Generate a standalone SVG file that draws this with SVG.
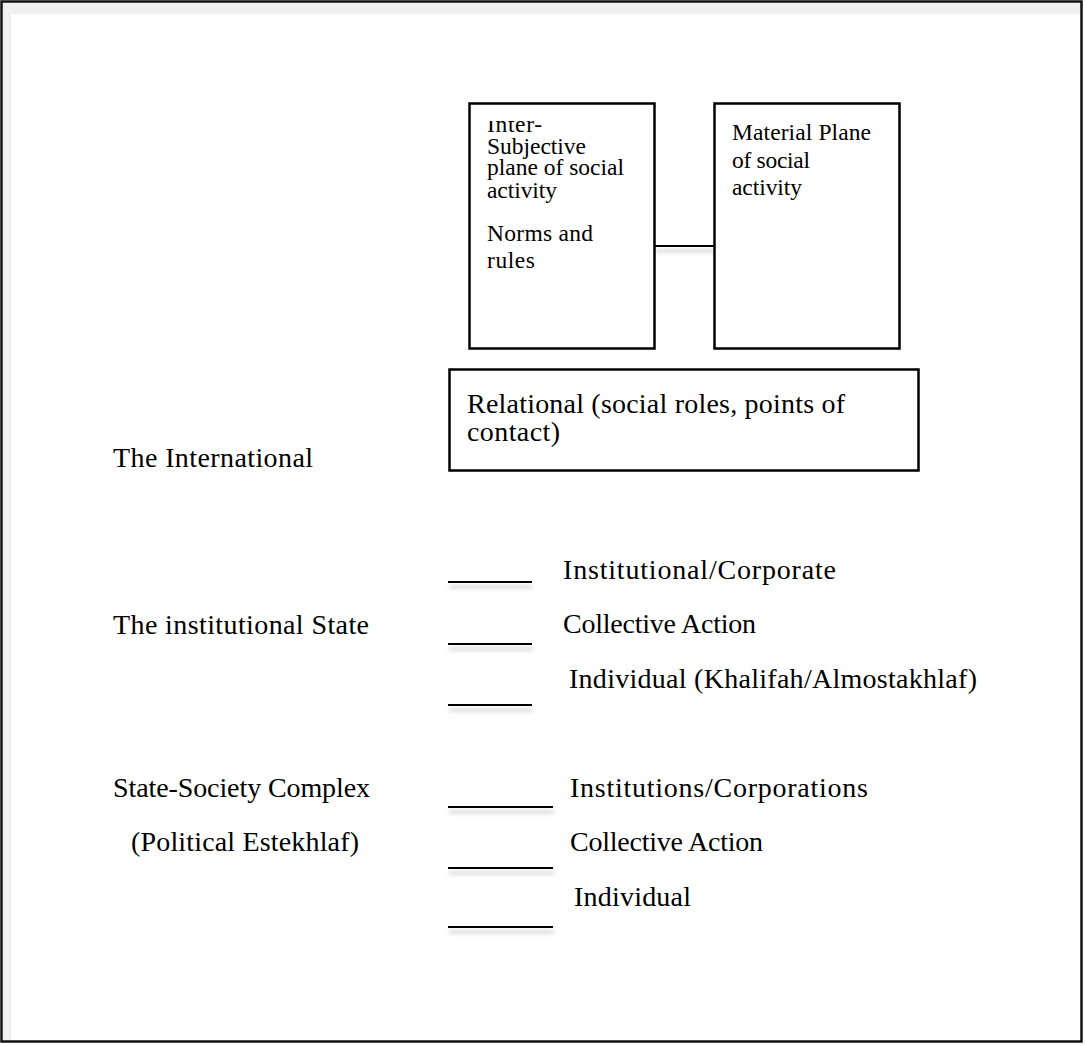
<svg xmlns="http://www.w3.org/2000/svg" width="1085" height="1046" viewBox="0 0 1085 1046">
  <style>
    .box { fill: #fff; stroke: #000; stroke-width: 2.5; }
    .t { font-family: "Liberation Serif", "Times New Roman", serif; fill: #000; }
    .small { font-size: 23.5px; }
    .big { font-size: 28px; }
    .ln { stroke: #000; stroke-width: 2; fill: none; }
  </style>
  <defs>
    <filter id="shadow" filterUnits="userSpaceOnUse" x="0" y="0" width="1085" height="1046">
      <feDropShadow dx="1" dy="5" stdDeviation="2" flood-color="#888" flood-opacity="0.55"/>
    </filter>
    <clipPath id="clipInter">
      <rect x="470" y="121" width="183" height="227"/>
    </clipPath>
  </defs>

  <rect x="0" y="0" width="1085" height="1046" fill="#fff"/>
  <g id="frame">
    <rect x="3" y="3" width="8" height="1037" fill="#f0f0f0"/>
    <rect x="3" y="3" width="1077" height="11" fill="#f0f0f0"/>
    <rect x="11" y="14" width="1069" height="1026" fill="#fff"/>
    <rect x="1.5" y="1.5" width="1080" height="1040" fill="none" stroke="#111" stroke-width="2.5"/>
  </g>

  <g id="connectors" filter="url(#shadow)">
    <line class="ln" x1="654" y1="246" x2="714" y2="246"/>
    <line class="ln" x1="448" y1="582" x2="532" y2="582"/>
    <line class="ln" x1="448" y1="644" x2="532" y2="644"/>
    <line class="ln" x1="448" y1="705" x2="532" y2="705"/>
    <line class="ln" x1="448" y1="807" x2="553" y2="807"/>
    <line class="ln" x1="448" y1="868" x2="553" y2="868"/>
    <line class="ln" x1="448" y1="927" x2="553" y2="927"/>
  </g>

  <g id="intersubjective">
    <rect class="box" x="469.5" y="103.5" width="185" height="245"/>
    <g clip-path="url(#clipInter)">
      <text class="t small" x="487" y="132" textLength="55" lengthAdjust="spacing">Inter-</text>
    </g>
    <text class="t small" x="487" y="154" textLength="99" lengthAdjust="spacing">Subjective</text>
    <text class="t small" x="487" y="175" textLength="137" lengthAdjust="spacing">plane of social</text>
    <text class="t small" x="487" y="198" textLength="70" lengthAdjust="spacing">activity</text>
    <text class="t small" x="487" y="241" textLength="106" lengthAdjust="spacing">Norms and</text>
    <text class="t small" x="487" y="268" textLength="48" lengthAdjust="spacing">rules</text>
  </g>

  <g id="material">
    <rect class="box" x="714.5" y="103.5" width="185" height="245"/>
    <text class="t small" x="732" y="140" textLength="139" lengthAdjust="spacing">Material Plane</text>
    <text class="t small" x="732" y="168" textLength="78" lengthAdjust="spacing">of social</text>
    <text class="t small" x="732" y="195" textLength="70" lengthAdjust="spacing">activity</text>
  </g>

  <g id="relational">
    <rect class="box" x="449.5" y="369.5" width="469" height="101"/>
    <text class="t big" x="467" y="413" textLength="378" lengthAdjust="spacing">Relational (social roles, points of</text>
    <text class="t big" x="467" y="441" textLength="93" lengthAdjust="spacing">contact)</text>
  </g>

  <g id="left-labels">
    <text class="t big" x="113" y="467" textLength="200" lengthAdjust="spacing">The International</text>
    <text class="t big" x="113" y="634" textLength="256" lengthAdjust="spacing">The institutional State</text>
    <text class="t big" x="113" y="797" textLength="257" lengthAdjust="spacing">State-Society Complex</text>
    <text class="t big" x="131" y="851" textLength="228" lengthAdjust="spacing">(Political Estekhlaf)</text>
  </g>

  <g id="state-levels">
    <text class="t big" x="563" y="579" textLength="273" lengthAdjust="spacing">Institutional/Corporate</text>
    <text class="t big" x="563" y="633" textLength="193" lengthAdjust="spacing">Collective Action</text>
    <text class="t big" x="569" y="688" textLength="408" lengthAdjust="spacing">Individual (Khalifah/Almostakhlaf)</text>
  </g>

  <g id="society-levels">
    <text class="t big" x="570" y="797" textLength="298" lengthAdjust="spacing">Institutions/Corporations</text>
    <text class="t big" x="570" y="851" textLength="193" lengthAdjust="spacing">Collective Action</text>
    <text class="t big" x="574" y="906" textLength="117" lengthAdjust="spacing">Individual</text>
  </g>
</svg>
